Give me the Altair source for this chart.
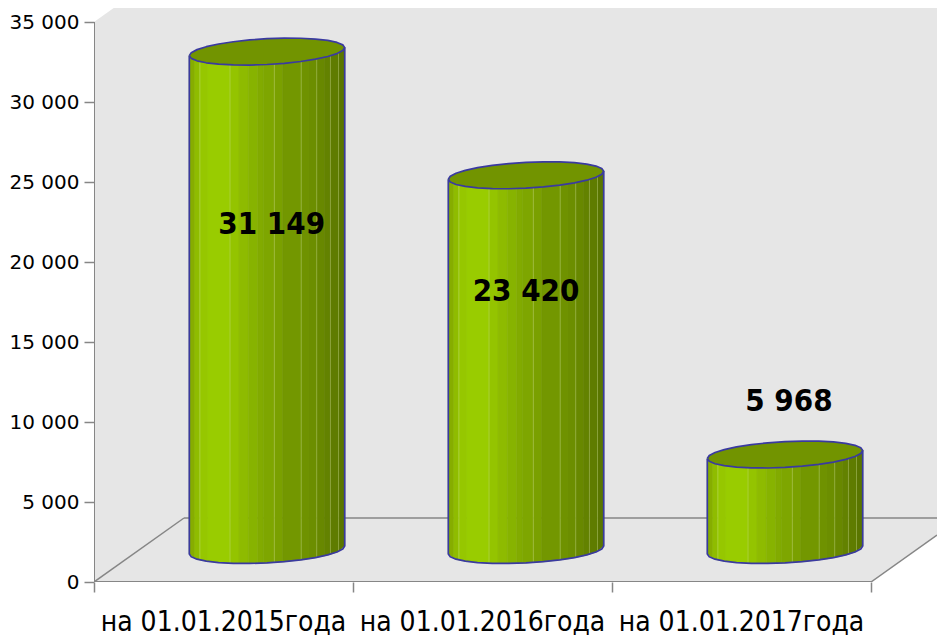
import numpy as np
import pandas as pd
import altair as alt

categories = ["на 01.01.2015года", "на 01.01.2016года", "на 01.01.2017года"]
values = [31149, 23420, 5968]
value_labels = ["31 149", "23 420", "5 968"]
label_levels = [22330, 18150, 11220]
label_shift = [0.018, 0.0, 0.015]
y_ticks = [0, 5000, 10000, 15000, 20000, 25000, 30000, 35000]
x_ticks = [0, 1, 2, 3]

strip_edges = [0, 0.036, 0.068, 0.12, 0.262, 0.32, 0.38, 0.44, 0.477, 0.547, 0.60, 0.72, 0.77, 0.82, 0.87, 0.908, 0.96, 1]
strip_colors = ["#86ad00", "#8fbc00", "#96c700", "#99cc00", "#94c400", "#8ebb00", "#87b300", "#82ab00", "#7ea600",
                "#7aa000", "#739700", "#6f9200", "#6c8e00", "#688800", "#638200", "#5f7c00", "#5a7600"]
light_edges = [0.068, 0.262, 0.547, 0.72, 0.82, 0.908, 0.96]

FONT = "DejaVu Sans Condensed"
GRAY = "#868686"
BLUE = "#3a3aa0"
TOPFILL = "#729400"

UNITS_X = 843 / 259
UNITS_Y = 574 / 0.016
xs = alt.Scale(domain=[0, UNITS_X], nice=False, zero=False)
ys = alt.Scale(domain=[0, UNITS_Y], nice=False, zero=False)
xaxis = alt.Axis(values=x_ticks, labels=False, domain=False, grid=False, ticks=True,
                 tickSize=10, tickColor=GRAY, tickWidth=1.5, title=None)
yaxis = alt.Axis(values=y_ticks, domain=False, grid=False, tickSize=10, tickColor=GRAY, tickWidth=1.5,
                 labelFont="DejaVu Sans", labelFontSize=20, labelColor="#000000", labelPadding=5, title=None,
                 labelExpr="replace(format(datum.value, ','), ',', ' ')")
cx0 = 0.668      # bar centre within a category
rx = 0.3         # bar half-width, category units
ry = 806         # ellipse half-height, value units
shear = 250      # ellipse tilt, value units
floor_mid = 2000 # mid-depth of the floor, value units
floor_back = 4000
depth_x = 90 / 259
wall_top = 39000
diag_end = (3 + (UNITS_X - 3), (UNITS_X - 3) / depth_x * floor_back)


def lower(c, u):
    return c + shear * u - ry * np.sqrt(np.clip(1 - u ** 2, 0, 1))


def upper(c, u):
    return c + shear * u + ry * np.sqrt(np.clip(1 - u ** 2, 0, 1))


wall = pd.DataFrame({
    "x": [0, depth_x, 3, UNITS_X],
    "y": [35000, wall_top, wall_top, wall_top],
    "y2": [0, 0, 0, diag_end[1]],
})
segments = pd.DataFrame([
    dict(k="floor_back", i=0, x=depth_x, y=floor_back),
    dict(k="floor_back", i=1, x=UNITS_X, y=floor_back),
    dict(k="diag_left", i=0, x=0, y=0),
    dict(k="diag_left", i=1, x=depth_x, y=floor_back),
    dict(k="diag_right", i=0, x=3, y=0),
    dict(k="diag_right", i=1, x=diag_end[0], y=diag_end[1]),
])
axes_lines = pd.DataFrame([
    dict(k="yaxis", i=0, x=0, y=0),
    dict(k="yaxis", i=1, x=0, y=35000),
    dict(k="xaxis", i=0, x=0, y=0),
    dict(k="xaxis", i=1, x=3, y=0),
])

strip_rows, light_rows, cap_rows, line_rows = [], [], [], []
angles = np.linspace(0, np.pi, 15)
for n, v in enumerate(values):
    cx = n + cx0
    base = floor_mid
    top = floor_mid + v
    for s, col in enumerate(strip_colors):
        for f in (strip_edges[s], strip_edges[s + 1]):
            u = 2 * f - 1
            strip_rows.append(dict(k=f"{n}-{s}", x=cx + rx * u, yt=lower(top, u), yb=lower(base, u), c=col))
    for f in light_edges:
        u = 2 * f - 1
        light_rows.append(dict(x=cx + rx * u, yt=lower(top, u), yb=lower(base, u)))
    us = np.cos(angles[::-1])
    for u in us:
        cap_rows.append(dict(k=n, x=cx + rx * u, yt=upper(top, u), yb=lower(top, u)))
    i = 0
    for u in us:
        line_rows.append(dict(k=f"top{n}", i=i, x=cx + rx * u, y=upper(top, u))); i += 1
    for u in us[::-1]:
        line_rows.append(dict(k=f"top{n}", i=i, x=cx + rx * u, y=lower(top, u))); i += 1
    i = 0
    line_rows.append(dict(k=f"body{n}", i=i, x=cx - rx, y=lower(top, -1))); i += 1
    for u in us:
        line_rows.append(dict(k=f"body{n}", i=i, x=cx + rx * u, y=lower(base, u))); i += 1
    line_rows.append(dict(k=f"body{n}", i=i, x=cx + rx, y=lower(top, 1)))

strips = pd.DataFrame(strip_rows)
lights = pd.DataFrame(light_rows)
caps = pd.DataFrame(cap_rows)
lines = pd.DataFrame(line_rows)
labels = pd.DataFrame({
    "x": [i + cx0 + d for i, d in enumerate(label_shift)],
    "y": label_levels,
    "t": value_labels,
})
cats = pd.DataFrame({"x": [i + 0.5 for i in range(3)], "y": [-2560] * 3, "t": categories})

X = alt.X("x:Q", scale=xs, axis=xaxis)
Y = alt.Y("y:Q", scale=ys, axis=yaxis, stack=None)
YT = alt.Y("yt:Q", scale=ys, axis=yaxis, stack=None)

wall_layer = alt.Chart(wall).mark_area(color="#e6e6e6", clip=True).encode(x=X, y=Y, y2="y2:Q")


def poly(df, width):
    return alt.Chart(df).mark_line(color=GRAY, strokeWidth=width, clip=True).encode(
        x=X, y=Y, detail="k:N", order="i:Q")


strip_layer = alt.Chart(strips).mark_area(strokeWidth=0.6).encode(
    x=X, y=YT, y2="yb:Q", detail="k:N",
    color=alt.Color("c:N", scale=None),
    stroke=alt.Stroke("c:N", scale=None),
)
light_layer = alt.Chart(lights).mark_rule(color="#d8e89a", strokeWidth=1, opacity=0.35).encode(
    x=X, y=alt.Y("yt:Q", scale=ys, axis=yaxis), y2="yb:Q")
cap_layer = alt.Chart(caps).mark_area(color=TOPFILL).encode(x=X, y=YT, y2="yb:Q", detail="k:N")
outline_layer = alt.Chart(lines).mark_line(color=BLUE, strokeWidth=1.7, strokeJoin="round").encode(
    x=X, y=Y, detail="k:N", order="i:Q")
label_layer = alt.Chart(labels).mark_text(font=FONT, fontSize=31, fontWeight="bold", color="#000000").encode(
    x=X, y=Y, text="t:N")
cat_layer = alt.Chart(cats).mark_text(font=FONT, fontSize=28, color="#000000").encode(
    x=X, y=Y, text="t:N")

chart = alt.layer(
    wall_layer, poly(segments, 1.5), poly(axes_lines, 2),
    strip_layer, light_layer, cap_layer, outline_layer, label_layer, cat_layer,
).properties(
    width=843, height=574,
    autosize=alt.AutoSizeParams(type="none"),
    padding={"left": 86, "top": 0, "right": 0, "bottom": 55},
).configure_view(stroke=None)

chart.save("out.html", embed_options={"renderer": "svg", "actions": False})
